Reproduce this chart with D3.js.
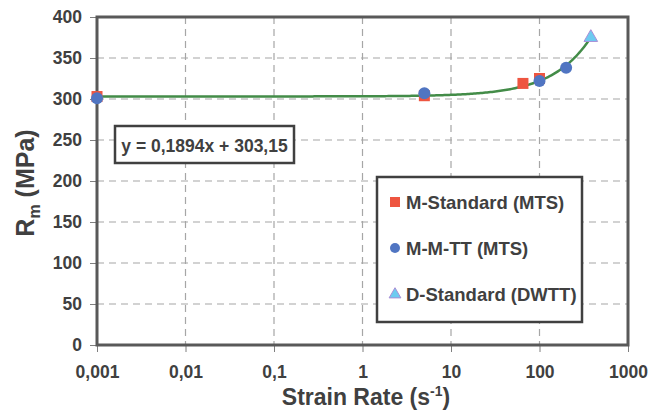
<!DOCTYPE html>
<html><head><meta charset="utf-8">
<script src="https://cdn.jsdelivr.net/npm/d3@7"></script>
<style>body{margin:0;background:#fff}svg{display:block}text{font-family:Arial,"Liberation Sans",sans-serif;font-weight:bold;fill:#404040}</style>
</head><body><svg id="c" width="651" height="410"></svg>
<script>
const xTicks = [0.001, 0.01, 0.1, 1, 10, 100, 1000];
const xTickLabels = ["0,001", "0,01", "0,1", "1", "10", "100", "1000"];
const yTicks = [0, 50, 100, 150, 200, 250, 300, 350, 400];
const mStdX = [0.001, 5, 65, 100];
const mStdY = [303, 304, 319, 325];
const mmttX = [0.001, 5, 100, 200];
const mmttY = [301, 307, 322, 338];
const dStdX = [380];
const dStdY = [375];
const trendSlope = 0.1894, trendIntercept = 303.15;
const trendRange = [0.001, 380];
const legendLabels = ["M-Standard (MTS)", "M-M-TT (MTS)", "D-Standard (DWTT)"];

const svg = d3.select("#c");
const L = 97, R = 628, T = 17, B = 345;
const x = d3.scaleLog().domain([0.001, 1000]).range([L, R]);
const y = d3.scaleLinear().domain([0, 400]).range([B, T]);

// grid
svg.append("g").selectAll("line").data(yTicks.slice(1, -1)).join("line")
  .attr("x1", L).attr("x2", R).attr("y1", d => y(d)).attr("y2", d => y(d))
  .attr("stroke", "#a6a6a6").attr("stroke-width", 1.2).attr("stroke-dasharray", "7,5");
svg.append("g").selectAll("line").data(xTicks.slice(1, -1)).join("line")
  .attr("y1", T).attr("y2", B).attr("x1", d => x(d)).attr("x2", d => x(d))
  .attr("stroke", "#a6a6a6").attr("stroke-width", 1.2).attr("stroke-dasharray", "7,5");

// axes
const yAxis = d3.axisLeft(y).tickValues(yTicks).tickSize(7).tickPadding(8).tickFormat(d3.format("d"));
const gy = svg.append("g").attr("transform", `translate(${L},0)`).call(yAxis);
const xAxis = d3.axisBottom(x).tickValues(xTicks).tickSize(7).tickPadding(14).tickFormat((d, i) => xTickLabels[i]);
const gx = svg.append("g").attr("transform", `translate(0,${B})`).call(xAxis);
[gy, gx].forEach(g => {
  g.select(".domain").remove();
  g.selectAll(".tick line").attr("stroke", "#7f7f7f").attr("stroke-width", 1);
  g.selectAll(".tick text").attr("font-size", 17.5).attr("fill", "#404040")
    .style("font-family", "Arial, 'Liberation Sans', sans-serif").style("font-weight", "bold");
});
// plot border
svg.append("rect").attr("x", L).attr("y", T).attr("width", R - L).attr("height", B - T)
  .attr("fill", "none").attr("stroke", "#595959").attr("stroke-width", 3);

// trendline
const trendPts = d3.range(0, 301).map(i => {
  const lx = Math.log10(trendRange[0]) + (Math.log10(trendRange[1]) - Math.log10(trendRange[0])) * i / 300;
  const xv = Math.pow(10, lx);
  return [xv, trendSlope * xv + trendIntercept];
});
svg.append("path").datum(trendPts)
  .attr("d", d3.line().x(d => x(d[0])).y(d => y(d[1])))
  .attr("fill", "none").attr("stroke", "#438c48").attr("stroke-width", 2.5);

// markers
const red = "#ee5540", blue = "#5075c2", tri = "#6ccbf0", triStroke = "#a98ed6";
svg.append("g").selectAll("rect").data(mStdX.map((d, i) => [d, mStdY[i]])).join("rect")
  .attr("x", d => x(d[0]) - 5.5).attr("y", d => y(d[1]) - 5.5).attr("width", 11).attr("height", 11).attr("fill", red);
svg.append("g").selectAll("circle").data(mmttX.map((d, i) => [d, mmttY[i]])).join("circle")
  .attr("cx", d => x(d[0])).attr("cy", d => y(d[1])).attr("r", 6).attr("fill", blue);
const triPath = d3.symbol().type(d3.symbolTriangle).size(80);
svg.append("g").selectAll("path").data(dStdX.map((d, i) => [d, dStdY[i]])).join("path")
  .attr("d", triPath).attr("transform", d => `translate(${x(d[0])},${y(d[1])})`)
  .attr("fill", tri).attr("stroke", triStroke).attr("stroke-width", 1);

// equation box
svg.append("rect").attr("x", 115).attr("y", 126).attr("width", 179).attr("height", 37)
  .attr("fill", "#fff").attr("stroke", "#404040").attr("stroke-width", 2.5);
svg.append("text").attr("x", 204.5).attr("y", 151.5).attr("text-anchor", "middle").attr("font-size", 17.5)
  .text(`y = ${String(trendSlope).replace(".", ",")}x + ${trendIntercept.toFixed(2).replace(".", ",")}`);

// legend
svg.append("rect").attr("x", 377).attr("y", 177).attr("width", 205).attr("height", 145)
  .attr("fill", "#fff").attr("stroke", "#404040").attr("stroke-width", 2.5);
const ly = [202, 248, 294];
svg.append("rect").attr("x", 390).attr("y", ly[0] - 5).attr("width", 10).attr("height", 10).attr("fill", red);
svg.append("circle").attr("cx", 395).attr("cy", ly[1]).attr("r", 5).attr("fill", blue);
svg.append("path").attr("d", d3.symbol().type(d3.symbolTriangle).size(60))
  .attr("transform", `translate(395,${ly[2] + 0.5})`).attr("fill", tri).attr("stroke", triStroke);
legendLabels.forEach((t, i) => {
  svg.append("text").attr("x", 406).attr("y", ly[i] + 6.5).attr("font-size", 18.5).text(t);
});

// axis titles
const yt = svg.append("text").attr("transform", "translate(34,183) rotate(-90)")
  .attr("text-anchor", "middle").attr("font-size", 25);
yt.append("tspan").text("R");
yt.append("tspan").attr("font-size", 16).attr("dy", 6).text("m");
yt.append("tspan").attr("dy", -6).text(" (MPa)");
const xt = svg.append("text").attr("x", 366).attr("y", 405).attr("text-anchor", "middle").attr("font-size", 23);
xt.append("tspan").text("Strain Rate (s");
xt.append("tspan").attr("font-size", 14).attr("dy", -9).text("-1");
xt.append("tspan").attr("dy", 9).text(")");
</script></body></html>
